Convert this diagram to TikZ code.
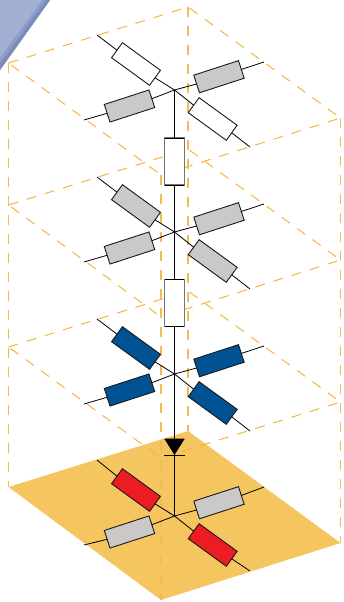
\documentclass[tikz,border=0pt]{standalone}
\definecolor{cagedash}{HTML}{F3B63A}
\definecolor{cagepost}{HTML}{F1BC50}
\definecolor{planefill}{HTML}{F5C55F}
\definecolor{resgray}{HTML}{CAC9C7}
\definecolor{resred}{HTML}{ED1C24}
\definecolor{resblue}{HTML}{005293}
\definecolor{cornerlight}{HTML}{A3B0D3}
\definecolor{cornermid}{HTML}{8E9DC6}
\definecolor{cornerdark}{HTML}{7A8CBB}
\tikzset{
  cage/.style={draw=cagedash, line width=1pt, dash pattern=on 10pt off 9pt},
  cagev/.style={draw=cagepost, line width=1.4pt, dash pattern=on 10pt off 9pt},
  wire/.style={draw=black, line width=0.8pt},
  resA/.style={rectangle, draw=black!90, line width=0.9pt, minimum width=47pt, minimum height=18.5pt, inner sep=0pt, outer sep=0pt, rotate=-36},
  resB/.style={rectangle, draw=black!90, line width=0.9pt, minimum width=47pt, minimum height=18.5pt, inner sep=0pt, outer sep=0pt, rotate=18},
  resV/.style={rectangle, draw=black!55, fill=white, line width=1.1pt, minimum width=19.5pt, minimum height=47pt, inner sep=0pt, outer sep=0pt},
}
\begin{document}
\begin{tikzpicture}[x=1pt, y=-1pt]
  \useasboundingbox (0,0) rectangle (344,602);
  % corner decoration
  \fill[cornerlight] (0,0) -- (50,0) -- (0,70) -- cycle;
  \fill[cornermid] (50,0) -- (42,0) -- (0,58) -- (0,70) -- cycle;
  \fill[cornerdark] (50,0) -- (46,0) -- (0,64) -- (0,70) -- cycle;
  % bottom plane
  \coordinate (p4l) at (8.5,487);
  \coordinate (p4t) at (188,431);
  \coordinate (p4r) at (340.5,543);
  \coordinate (p4b) at (161,600);
  \fill[planefill] (p4l) -- (p4t) -- (p4r) -- (p4b) -- cycle;
  % dashed cage
  \coordinate (p1l) at (8.5,63);
  \coordinate (p1t) at (188,7);
  \coordinate (p1r) at (340.5,118);
  \coordinate (p1b) at (161,175);
  \coordinate (p2l) at (8.5,205);
  \coordinate (p2t) at (188,149);
  \coordinate (p2r) at (340.5,260);
  \coordinate (p2b) at (161,317);
  \coordinate (p3l) at (8.5,347);
  \coordinate (p3t) at (188,291);
  \coordinate (p3r) at (340.5,402);
  \coordinate (p3b) at (161,458);
  \draw[cage] (p1l) -- (p1t) -- (p1r) -- (p1b) -- cycle;
  \draw[cage] (p2l) -- (p2t) -- (p2r) -- (p2b) -- cycle;
  \draw[cage] (p3l) -- (p3t) -- (p3r) -- (p3b) -- cycle;
  \draw[cagev] (p1l) -- (p4l);
  \draw[cagev] (p1t) -- (p4t);
  \draw[cagev] (p1r) -- (p4r);
  \draw[cagev] (p1b) -- (p4b);
  % layer 1
  \coordinate (c1) at (174.5,90);
  \coordinate (a1) at (97,35);
  \coordinate (b1) at (250,147);
  \coordinate (d1) at (84,120);
  \coordinate (e1) at (264,62);
  \node[resA, fill=white] (r1a) at (136,64) {};
  \node[resA, fill=white] (r1c) at (212.7,119) {};
  \node[resB, fill=resgray] (r1b) at (129.5,106) {};
  \node[resB, fill=resgray] (r1d) at (219,76.7) {};
  % layer 2
  \coordinate (c2) at (174.5,232);
  \coordinate (a2) at (97,177);
  \coordinate (b2) at (250,289);
  \coordinate (d2) at (84,262);
  \coordinate (e2) at (264,204);
  \node[resA, fill=resgray] (r2a) at (136,206) {};
  \node[resA, fill=resgray] (r2c) at (212.7,261) {};
  \node[resB, fill=resgray] (r2b) at (129.5,248) {};
  \node[resB, fill=resgray] (r2d) at (219,218.7) {};
  % layer 3
  \coordinate (c3) at (174.5,374);
  \coordinate (a3) at (97,319);
  \coordinate (b3) at (250,431);
  \coordinate (d3) at (84,404);
  \coordinate (e3) at (264,346);
  \node[resA, fill=resblue] (r3a) at (136,348) {};
  \node[resA, fill=resblue] (r3c) at (212.7,403) {};
  \node[resB, fill=resblue] (r3b) at (129.5,390) {};
  \node[resB, fill=resblue] (r3d) at (219,360.7) {};
  % layer 4
  \coordinate (c4) at (174.5,516);
  \coordinate (a4) at (97,460);
  \coordinate (b4) at (250,571);
  \coordinate (d4) at (84,545);
  \coordinate (e4) at (264,487);
  \node[resA, fill=resred] (r4a) at (136,490) {};
  \node[resA, fill=resred] (r4c) at (212.7,545) {};
  \node[resB, fill=resgray] (r4b) at (129.5,532) {};
  \node[resB, fill=resgray] (r4d) at (219,502.7) {};
  % wires
  \foreach \n in {1,2,3,4} {
    \draw[wire] (a\n) -- (r\n a.west);
    \draw[wire] (r\n a.east) -- (c\n);
    \draw[wire] (c\n) -- (r\n c.west);
    \draw[wire] (r\n c.east) -- (b\n);
    \draw[wire] (d\n) -- (r\n b.west);
    \draw[wire] (r\n b.east) -- (c\n);
    \draw[wire] (c\n) -- (r\n d.west);
    \draw[wire] (r\n d.east) -- (e\n);
  }
  % vertical string
  \node[resV] (v1) at (174.5,161.5) {};
  \node[resV] (v2) at (174.5,303) {};
  \draw[wire] (v1.north west) -- (v1.north east);
  \draw[wire] (v1.south west) -- (v1.south east);
  \draw[wire] (v2.north west) -- (v2.north east);
  \draw[wire] (v2.south west) -- (v2.south east);
  \coordinate (dtl) at (164.3,438.7);
  \coordinate (dtr) at (184.7,438.7);
  \coordinate (dtip) at (174.5,455);
  \coordinate (dbl) at (164.3,455);
  \coordinate (dbr) at (184.7,455);
  \draw[wire] (c1) -- (v1.north);
  \draw[wire] (v1.south) -- (c2);
  \draw[wire] (c2) -- (v2.north);
  \draw[wire] (v2.south) -- (c3);
  \draw[wire] (c3) -- (dtip);
  \draw[wire] (dtip) -- (c4);
  \fill[black] (dtl) -- (dtr) -- (dtip) -- cycle;
  \draw[wire] (dbl) -- (dbr);
\end{tikzpicture}
\end{document}
